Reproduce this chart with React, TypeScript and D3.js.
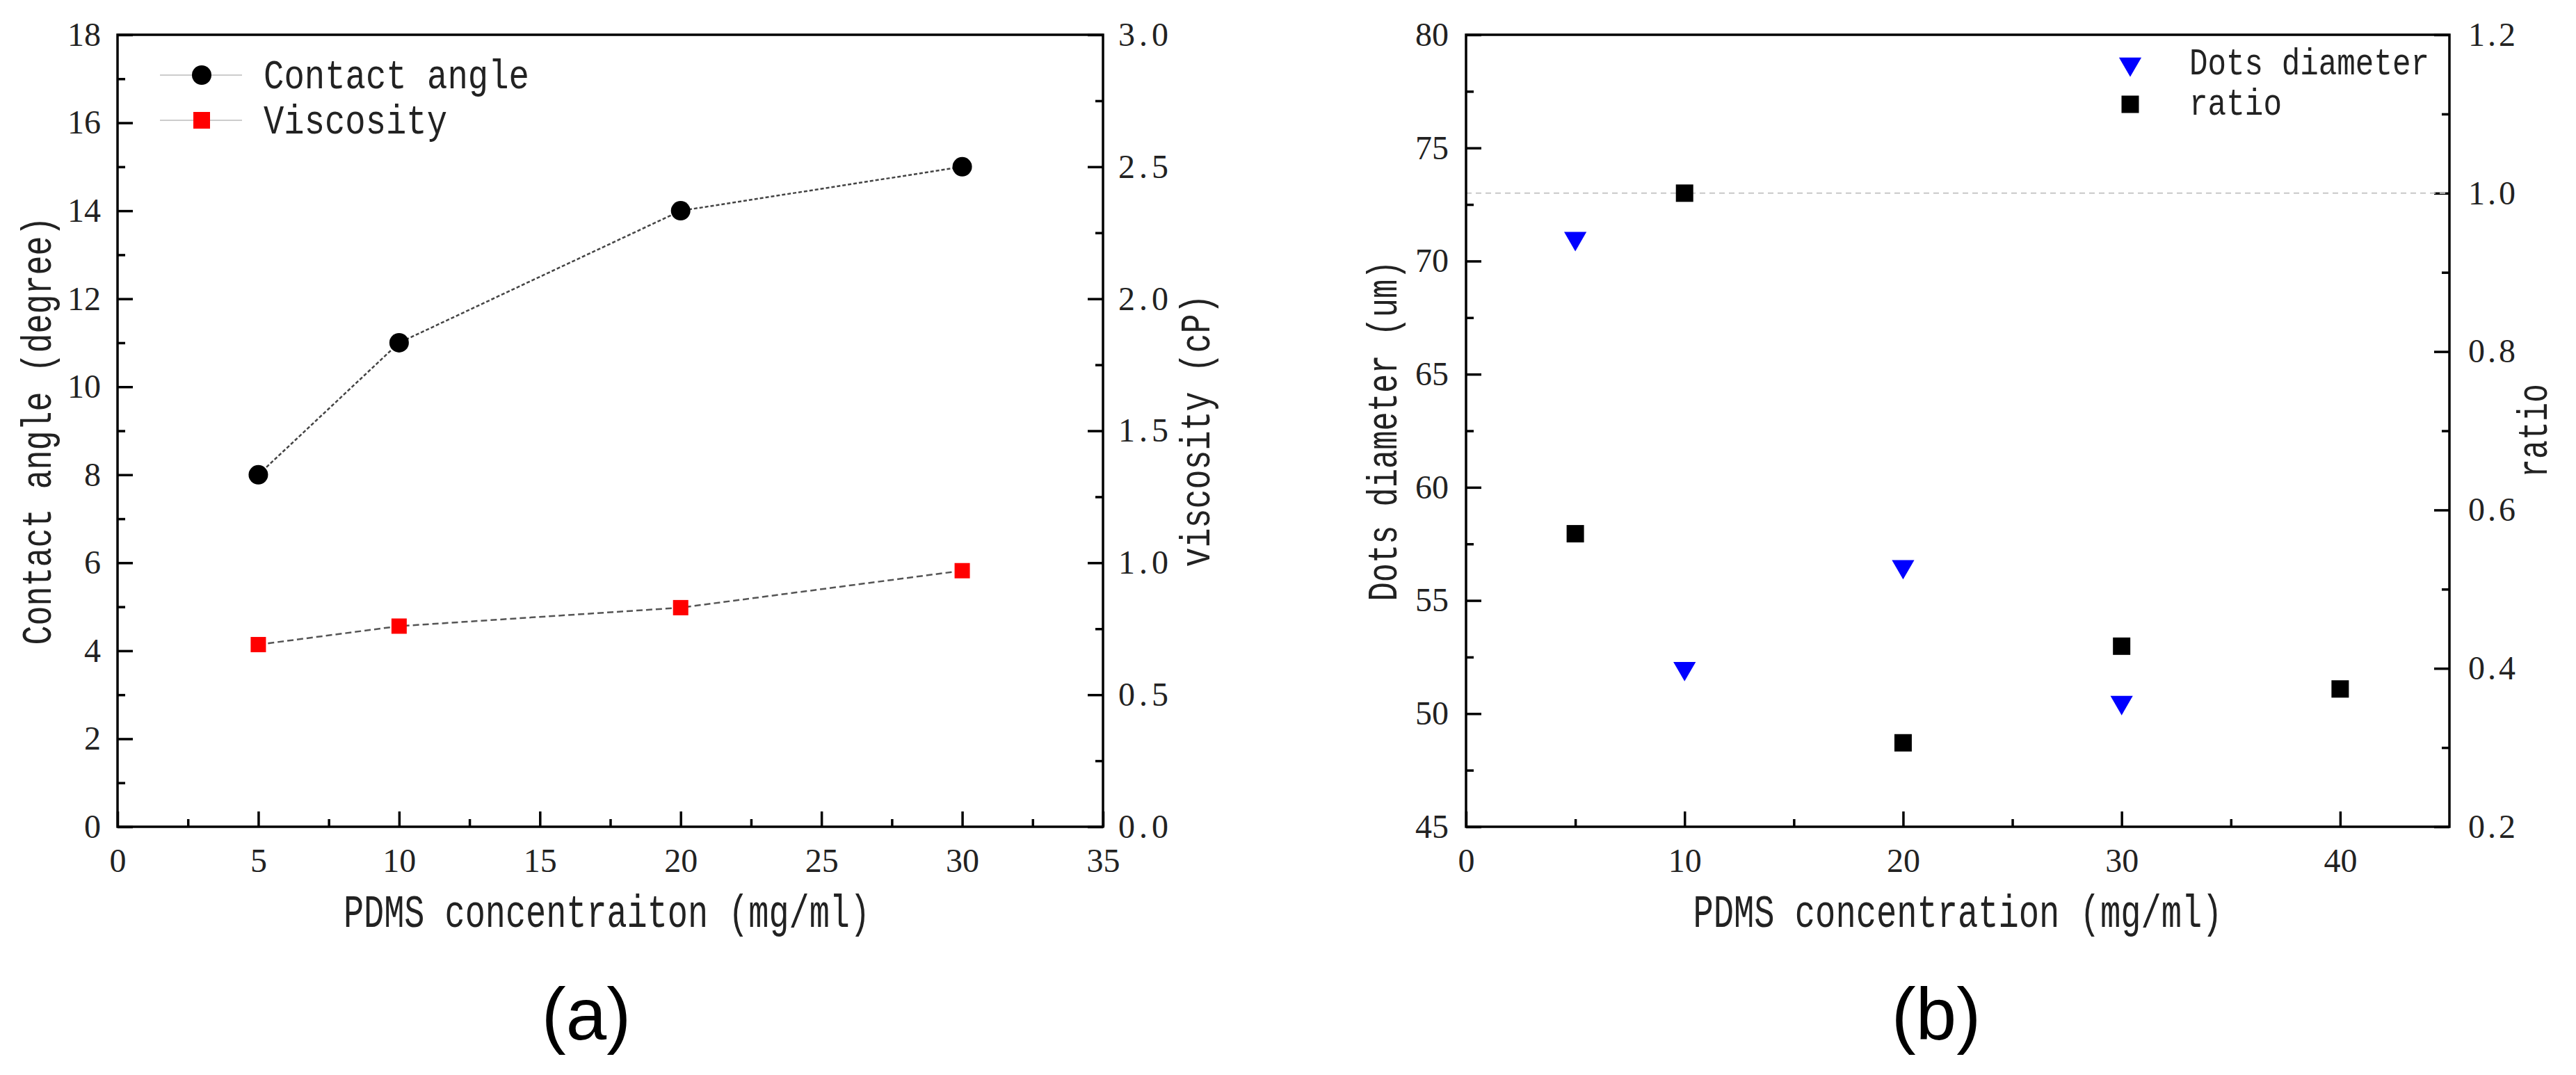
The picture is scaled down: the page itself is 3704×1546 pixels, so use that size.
import React, { useEffect, useRef } from 'react';
import * as d3 from 'd3';

const W = 3704;
const H = 1546;

// panel (a): contact angle and viscosity vs PDMS concentration
const concA = [5, 10, 20, 30];
const contactAngle = [8, 11, 14, 15];
const viscosity = [0.69, 0.76, 0.83, 0.97];

// panel (b): dots diameter and ratio vs PDMS concentration
const concDots = [5, 10, 20, 30];
const dotsDiameter = [71, 52, 56.5, 50.5];
const concRatio = [5, 10, 20, 30, 40];
const ratio = [0.57, 1.0, 0.306, 0.428, 0.374];

// ticks
const xTicksA = [0, 5, 10, 15, 20, 25, 30, 35];
const xMinorA = [2.5, 7.5, 12.5, 17.5, 22.5, 27.5, 32.5];
const angleTicks = [0, 2, 4, 6, 8, 10, 12, 14, 16, 18];
const angleMinor = [1, 3, 5, 7, 9, 11, 13, 15, 17];
const viscTicks = [0, 0.5, 1.0, 1.5, 2.0, 2.5, 3.0];
const viscMinor = [0.25, 0.75, 1.25, 1.75, 2.25, 2.75];
const xTicksB = [0, 10, 20, 30, 40];
const xMinorB = [5, 15, 25, 35];
const diaTicks = [45, 50, 55, 60, 65, 70, 75, 80];
const diaMinor = [47.5, 52.5, 57.5, 62.5, 67.5, 72.5, 77.5];
const ratioTicks = [0.2, 0.4, 0.6, 0.8, 1.0, 1.2];
const ratioMinor = [0.3, 0.5, 0.7, 0.9, 1.1];

const MONO = '"Liberation Mono", "DejaVu Sans Mono", monospace';
const SERIF = '"Liberation Serif", "DejaVu Serif", serif';
const TXT = '#222';

// one axis = minor ticks + major ticks with labels, ticks point inward
const drawAxis = (g, make, scale, major, minor, tx, ty, pad, fmt, labelLen) => {
    const minorG = g.append('g')
        .attr('transform', `translate(${tx},${ty})`)
        .call(make(scale).tickValues(minor).tickSize(-11).tickFormat(() => ''));
    const majorG = g.append('g')
        .attr('transform', `translate(${tx},${ty})`)
        .call(make(scale).tickValues(major).tickSize(-22).tickPadding(pad).tickFormat(fmt));
    [minorG, majorG].forEach(s => {
        s.select('.domain').remove();
        s.selectAll('line').attr('stroke', '#000').attr('stroke-width', 3.5);
    });
    const t = majorG.selectAll('text')
        .attr('font-family', SERIF)
        .attr('font-size', 48)
        .attr('fill', TXT);
    if (labelLen) t.attr('textLength', labelLen).attr('lengthAdjust', 'spacing');
};

const label = (g, text, x, y, size, len, rotate = false, anchor = 'middle') => {
    const t = g.append('text')
        .attr('font-family', MONO)
        .attr('font-size', size)
        .attr('fill', TXT)
        .attr('text-anchor', anchor)
        .attr('textLength', len)
        .attr('lengthAdjust', 'spacingAndGlyphs')
        .text(text);
    if (rotate) {
        t.attr('transform', `translate(${x},${y}) rotate(-90)`).attr('dominant-baseline', 'central');
    } else {
        t.attr('x', x).attr('y', y);
    }
    return t;
};

const drawA = (g) => {
    const L = 169, R = 1586, T = 50, B = 1189;
    const x = d3.scaleLinear([0, 35], [L, R]);
    const yL = d3.scaleLinear([0, 18], [B, T]);
    const yR = d3.scaleLinear([0, 3], [B, T]);

    drawAxis(g, d3.axisBottom, x, xTicksA, xMinorA, 0, B, 31, d3.format('d'));
    drawAxis(g, d3.axisLeft, yL, angleTicks, angleMinor, L, 0, 24, d3.format('d'));
    drawAxis(g, d3.axisRight, yR, viscTicks, viscMinor, R, 0, 22, d3.format('.1f'), 72);

    g.append('rect')
        .attr('x', L).attr('y', T).attr('width', R - L).attr('height', B - T)
        .attr('fill', 'none').attr('stroke', '#000').attr('stroke-width', 3.5);

    const angleLine = d3.line().x((d, i) => x(concA[i])).y(d => yL(d));
    const viscLine = d3.line().x((d, i) => x(concA[i])).y(d => yR(d));

    g.append('path').attr('d', angleLine(contactAngle))
        .attr('fill', 'none').attr('stroke', '#444').attr('stroke-width', 2.5)
        .attr('stroke-dasharray', '5,3');
    g.append('path').attr('d', viscLine(viscosity))
        .attr('fill', 'none').attr('stroke', '#555').attr('stroke-width', 2.5)
        .attr('stroke-dasharray', '9,5');

    const circle = d3.symbol().type(d3.symbolCircle).size(Math.PI * 14 * 14);
    const square = d3.symbol().type(d3.symbolSquare).size(22 * 22);

    g.selectAll('.ca').data(contactAngle).join('path')
        .attr('d', circle)
        .attr('transform', (d, i) => `translate(${x(concA[i])},${yL(d)})`)
        .attr('fill', '#000');
    g.selectAll('.vs').data(viscosity).join('path')
        .attr('d', square)
        .attr('transform', (d, i) => `translate(${x(concA[i])},${yR(d)})`)
        .attr('fill', '#ff0000');

    // legend
    [108, 173].forEach(y => {
        g.append('line').attr('x1', 230).attr('x2', 348).attr('y1', y).attr('y2', y)
            .attr('stroke', '#ccc').attr('stroke-width', 2);
    });
    g.append('path').attr('d', circle).attr('transform', 'translate(290,108)').attr('fill', '#000');
    g.append('path').attr('d', d3.symbol().type(d3.symbolSquare).size(24 * 24)())
        .attr('transform', 'translate(290,173)').attr('fill', '#ff0000');
    label(g, 'Contact angle', 379, 127, 60, 382, false, 'start');
    label(g, 'Viscosity', 379, 192, 60, 264, false, 'start');

    // axis titles
    label(g, 'PDMS concentraiton (mg/ml)', (L + R) / 2 - 5, 1333, 66, 757);
    label(g, 'Contact angle (degree)', 56, (T + B) / 2, 62, 616, true);
    label(g, 'viscosity (cP)', 1722, (T + B) / 2, 62, 392, true);

    g.append('text')
        .attr('x', 843).attr('y', 1495)
        .attr('text-anchor', 'middle')
        .attr('font-family', '"Liberation Sans", Arial, sans-serif')
        .attr('font-size', 105)
        .attr('fill', '#000')
        .text('(a)');
};

const drawB = (g) => {
    const L = 2108, R = 3522, T = 50, B = 1189;
    const x = d3.scaleLinear([0, 45], [L, R]);
    const yL = d3.scaleLinear([45, 80], [B, T]);
    const yR = d3.scaleLinear([0.2, 1.2], [B, T]);

    drawAxis(g, d3.axisBottom, x, xTicksB, xMinorB, 0, B, 31, d3.format('d'));
    drawAxis(g, d3.axisLeft, yL, diaTicks, diaMinor, L, 0, 25, d3.format('d'));
    drawAxis(g, d3.axisRight, yR, ratioTicks, ratioMinor, R, 0, 27, d3.format('.1f'), 68);

    // reference line at ratio = 1
    g.append('line')
        .attr('x1', L).attr('x2', R).attr('y1', yR(1)).attr('y2', yR(1))
        .attr('stroke', '#c8c8c8').attr('stroke-width', 2).attr('stroke-dasharray', '8,6');

    g.append('rect')
        .attr('x', L).attr('y', T).attr('width', R - L).attr('height', B - T)
        .attr('fill', 'none').attr('stroke', '#000').attr('stroke-width', 3.5);

    const tri = d3.symbol().type(d3.symbolTriangle).size(450);
    const square = d3.symbol().type(d3.symbolSquare).size(25 * 25);

    g.selectAll('.dd').data(dotsDiameter).join('path')
        .attr('d', tri)
        .attr('transform', (d, i) => `translate(${x(concDots[i])},${yL(d)}) rotate(180)`)
        .attr('fill', '#0000ff');
    g.selectAll('.rt').data(ratio).join('path')
        .attr('d', square)
        .attr('transform', (d, i) => `translate(${x(concRatio[i])},${yR(d)})`)
        .attr('fill', '#000');

    // legend
    g.append('path').attr('d', tri).attr('transform', 'translate(3063,92) rotate(180)').attr('fill', '#0000ff');
    g.append('path').attr('d', square).attr('transform', 'translate(3063,150)').attr('fill', '#000');
    label(g, 'Dots diameter', 3148, 107, 54, 345, false, 'start');
    label(g, 'ratio', 3148, 165, 54, 133, false, 'start');

    label(g, 'PDMS concentration (mg/ml)', (L + R) / 2, 1333, 66, 761);
    label(g, 'Dots diameter (um)', 1991, (T + B) / 2, 62, 490, true);
    label(g, 'ratio', 3645, (T + B) / 2, 62, 135, true);

    g.append('text')
        .attr('x', 2784).attr('y', 1495)
        .attr('text-anchor', 'middle')
        .attr('font-family', '"Liberation Sans", Arial, sans-serif')
        .attr('font-size', 105)
        .attr('fill', '#000')
        .text('(b)');
};

export default function App() {
    const ref = useRef(null);

    useEffect(() => {
        const svg = d3.select(ref.current);
        svg.selectAll('*').remove();
        svg.append('rect').attr('width', W).attr('height', H).attr('fill', '#fff');
        drawA(svg.append('g'));
        drawB(svg.append('g'));
    }, []);

    return (
        <svg
            ref={ref}
            width={W}
            height={H}
            viewBox={`0 0 ${W} ${H}`}
            style={{ position: 'absolute', left: 0, top: 0, display: 'block' }}
        />
    );
}
